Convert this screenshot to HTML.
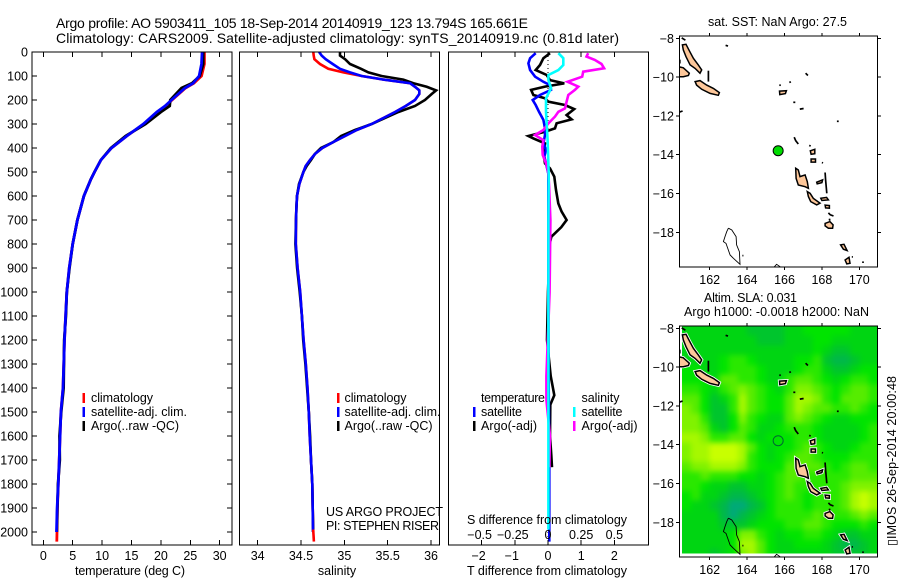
<!DOCTYPE html>
<html lang="en">
<head>
<meta charset="utf-8">
<title>Argo profile 5903411_105</title>
<style>
html,body{margin:0;padding:0;background:#fff;width:900px;height:580px;overflow:hidden}
svg{display:block}
text{font-family:"Liberation Sans",Arial,sans-serif;font-size:12.5px;fill:#000}
</style>
</head>
<body>
<svg id="chart" xmlns="http://www.w3.org/2000/svg" width="900" height="580" viewBox="0 0 900 580">
<defs>
<clipPath id="clip-map1"><rect x="680" y="36" width="198" height="231"/></clipPath>
<clipPath id="clip-map2"><rect x="680" y="326" width="198" height="231"/></clipPath>
<clipPath id="clip-heat"><rect x="682" y="326" width="196" height="227.5"/></clipPath>
<filter id="heat-soften" filterUnits="userSpaceOnUse" x="650" y="300" width="250" height="280" color-interpolation-filters="sRGB"><feGaussianBlur stdDeviation="3"/></filter>
</defs>
<rect x="0" y="0" width="900" height="580" fill="#fff"/>
<text x="56" y="28" textLength="472" style="font-size:14px">Argo profile: AO 5903411_105 18-Sep-2014 20140919_123 13.794S 165.661E</text>
<text x="56" y="43" textLength="563" style="font-size:14px">Climatology: CARS2009. Satellite-adjusted climatology: synTS_20140919.nc (0.81d later)</text>
<g clip-path="url(#clip-heat)"><g id="heat" filter="url(#heat-soften)"></g></g>
<g id="map1" clip-path="url(#clip-map1)"></g>
<g id="map2" clip-path="url(#clip-map2)"></g>
<g id="p1"></g>
<g id="p2"></g>
<g id="p3"></g>
<g id="axes"></g>

<text x="130" y="575" text-anchor="middle" textLength="110">temperature (deg C)</text>
<text x="337" y="575" text-anchor="middle">salinity</text>
<text x="547" y="575" text-anchor="middle" textLength="160">T difference from climatology</text>
<text x="547" y="524" text-anchor="middle" textLength="160">S difference from climatology</text>

<rect x="82.5" y="393" width="2.5" height="10" fill="#f00"/>
<rect x="82.5" y="407" width="2.5" height="10" fill="#00f"/>
<rect x="82.5" y="421" width="2.5" height="10" fill="#000"/>
<text x="91" y="402" textLength="62">climatology</text>
<text x="91" y="416" textLength="96">satellite-adj. clim.</text>
<text x="91" y="430" textLength="88">Argo(..raw -QC)</text>

<rect x="337" y="393" width="2.5" height="10" fill="#f00"/>
<rect x="337" y="407" width="2.5" height="10" fill="#00f"/>
<rect x="337" y="421" width="2.5" height="10" fill="#000"/>
<text x="344.5" y="402" textLength="62">climatology</text>
<text x="344.5" y="416" textLength="96">satellite-adj. clim.</text>
<text x="344.5" y="430" textLength="88">Argo(..raw -QC)</text>

<text x="326" y="516" textLength="117">US ARGO PROJECT</text>
<text x="326" y="530" textLength="113">PI: STEPHEN RISER</text>

<rect x="473" y="407" width="2.5" height="10" fill="#00f"/>
<rect x="473" y="421" width="2.5" height="10" fill="#000"/>
<rect x="573" y="407" width="2.5" height="10" fill="#0ff"/>
<rect x="573" y="421" width="2.5" height="10" fill="#f0f"/>
<text x="481" y="402" textLength="64">temperature</text>
<text x="481" y="416" textLength="41">satellite</text>
<text x="481" y="430" textLength="56">Argo(-adj)</text>
<text x="581.5" y="402" textLength="38">salinity</text>
<text x="581.5" y="416" textLength="41">satellite</text>
<text x="581.5" y="430" textLength="56">Argo(-adj)</text>

<text x="708" y="26" textLength="139">sat. SST: NaN Argo: 27.5</text>
<text x="704" y="302" textLength="93">Altim. SLA: 0.031</text>
<text x="684" y="316" textLength="185">Argo h1000: -0.0018 h2000: NaN</text>
<text transform="translate(896,546) rotate(-90)" textLength="170">▯IMOS 26-Sep-2014 20:00:48</text>
</svg>

<script>
// ---- depth scale ----
const depthTicks = [0,100,200,300,400,500,600,700,800,900,1000,1100,1200,1300,1400,1500,1600,1700,1800,1900,2000];

// ---- temperature profile (deg C) ----
const tempTicks = [0,5,10,15,20,25,30];
const tempDepth = [0,50,100,130,150,200,225,250,300,350,400,450,500,530,600,700,800,900,1000,1100,1200,1400,1500,1600,1700,1800,1900,2000];
const tempClim  = [27.4,27.4,26.9,25.6,24.2,21.9,20.8,19.4,17.1,14.2,11.6,9.8,8.7,8.1,6.9,5.8,5.0,4.4,4.0,3.8,3.6,3.35,3.0,2.85,2.7,2.55,2.4,2.33];
const tempSat   = [27.0,26.9,26.5,25.5,24.1,21.8,20.7,19.3,17.0,14.2,11.6,9.8,8.7,8.1,6.9,5.8,5.0,4.4,4.0,3.8,3.6,3.35,3.0,2.85,2.7,2.55,2.35,2.25];
const tempArgo  = [27.2,27.2,26.6,25.3,23.5,21.6,21.5,20.0,17.4,14.0,11.5,9.8,8.7,8.1,6.9,5.8,5.0,4.45,4.0,3.85,3.55,3.45,3.05,2.75,2.8,2.5,2.4,2.3];
const tempClimTail = [[2000,2.33],[2040,2.3]];

// ---- salinity profile (psu) ----
const salTicks = [34,34.5,35,35.5,36];
const salDepth = [0,15,30,50,70,85,100,115,130,145,160,175,200,225,250,275,300,325,350,375,400,425,450,475,500,550,600,650,700,800,900,1000,1100,1200,1300,1400,1500,1600,1700,1800,1900,2000];
const salClim = [34.642,34.646,34.654,34.719,34.815,34.988,35.2,35.45,35.758,35.815,35.865,35.865,35.815,35.708,35.585,35.45,35.315,35.142,35.008,34.873,34.746,34.66,34.604,34.554,34.527,34.481,34.454,34.446,34.442,34.44,34.46,34.49,34.51,34.53,34.555,34.575,34.59,34.6,34.615,34.63,34.635,34.64];
const salSat  = [34.708,34.738,34.785,34.865,34.95,35.065,35.2,35.45,35.758,35.815,35.865,35.865,35.815,35.708,35.585,35.45,35.315,35.142,35.008,34.873,34.746,34.66,34.604,34.554,34.527,34.481,34.454,34.446,34.442,34.44,34.46,34.49,34.51,34.53,34.555,34.575,34.59,34.6,34.615,34.63,34.635,34.638];
const salArgo = [34.95,34.95,35.008,35.065,35.192,35.277,35.43,35.68,35.796,35.95,36.058,36.008,35.93,35.815,35.623,35.47,35.315,35.123,34.962,34.873,34.73,34.66,34.615,34.565,34.527,34.477,34.454,34.446,34.442,34.435,34.455,34.485,34.51,34.525,34.55,34.57,34.59,34.605,34.615,34.63,34.635,34.64];
const salClimTail = [[1990,34.64],[2040,34.648]];

// ---- difference panel ----
const tDiffTicks = [-2,-1,0,1,2];
const tDiffLabels = ['\u22122','\u22121','0','1','2'];
const sDiffTicks = [-0.5,-0.25,0,0.25,0.5];
const sDiffLabels = ['\u22120.5','\u22120.25','0','0.25','0.5'];
const dtSatDepth = [5,26,47,75,103,124,138,158,179,200,221,249,283,318,346,381,408,436,464,506,561,700,1000,1400,1700,2040];
const dtSatVal   = [-0.37,-0.54,-0.59,-0.54,-0.39,-0.14,0.06,0.09,-0.24,-0.46,-0.37,-0.27,-0.14,-0.09,-0.09,-0.14,-0.06,-0.11,-0.06,0.01,0.01,0.01,0.01,0.02,0.04,0.04];
const dtArgoDepth = [5,26,54,75,96,117,131,144,158,179,193,207,221,238,263,281,297,318,332,350,360,381,422,464,485,519,575,631,665,700,730,770,800,1000,1200,1350,1430,1470,1600,1680,1730];
const dtArgoVal   = [0.06,-0.14,-0.24,-0.37,-0.04,0.06,0.49,-0.09,-0.51,-0.44,-0.09,0.01,0.51,0.79,0.56,0.71,0.26,0.21,-0.09,-0.59,-0.44,-0.09,-0.14,-0.09,0.06,0.19,0.24,0.31,0.41,0.56,0.4,0.1,0.05,0.0,-0.03,0.08,0.19,0.07,0.06,0.1,0.12];
const dsArgoDepth = [5,19,33,50,68,82,103,124,144,158,179,207,235,249,269,297,325,346,367,394,429,471,506,561,700,1000,1350,1450,1600,1730];
const dsArgoVal   = [0.303,0.29,0.353,0.403,0.423,0.265,0.258,0.148,0.228,0.203,0.153,0.14,0.128,0.078,0.053,0.003,-0.035,-0.098,-0.035,-0.043,-0.04,-0.01,0.003,0.008,0.018,0.012,-0.012,-0.012,0.015,0.01];
const dsSatDepth = [5,26,54,75,96,117,151,193,249,367,506,700,1990];
const dsSatVal   = [0.078,0.115,0.115,0.078,0.003,0.003,0.023,-0.015,-0.015,-0.003,0.005,0.003,0.003];

// ---- map data ----
const lonTicks = [162,164,166,168,170];
const latTicks = [-8,-10,-12,-14,-16,-18];
const latLabels = ['\u22128','\u221210','\u221212','\u221214','\u221216','\u221218'];
const floatLon = 165.661;
const floatLat = -13.794;
const landPolygons = [
 [[160.54,-8.34],[160.73,-8.31],[160.91,-8.64],[161.13,-9.03],[161.39,-9.37],[161.57,-9.63],[161.48,-9.8],[161.22,-9.55],[160.95,-9.37],[160.73,-8.95],[160.59,-8.6]],
 [[160.3,-9.46],[160.59,-9.52],[160.91,-9.8],[160.86,-9.92],[160.59,-9.98],[160.3,-9.98]],
 [[161.22,-10.23],[161.48,-10.18],[161.84,-10.41],[162.2,-10.58],[162.52,-10.8],[162.46,-10.94],[162.02,-10.84],[161.57,-10.63],[161.3,-10.41]],
 [[165.73,-10.72],[166.1,-10.7],[166.05,-10.85],[165.75,-10.9]],
 [[167.38,-13.8],[167.62,-13.72],[167.62,-13.95],[167.42,-13.98]],
 [[167.42,-14.22],[167.66,-14.22],[167.66,-14.38],[167.42,-14.38]],
 [[166.6,-14.7],[166.74,-14.79],[166.83,-15.13],[167.1,-15.04],[167.22,-15.39],[167.28,-15.73],[167.1,-15.65],[166.74,-15.56],[166.62,-15.22]],
 [[167.22,-15.9],[167.37,-15.99],[167.54,-16.25],[167.9,-16.5],[167.72,-16.59],[167.4,-16.42],[167.28,-16.16]],
 [[167.72,-15.42],[168.04,-15.3],[168.0,-15.44],[167.75,-15.5]],
 [[167.94,-16.25],[168.25,-16.2],[168.35,-16.33],[168.0,-16.36]],
 [[168.17,-16.6],[168.4,-16.62],[168.4,-16.76],[168.2,-16.74]],
 [[168.17,-17.54],[168.43,-17.45],[168.6,-17.62],[168.57,-17.79],[168.35,-17.79],[168.17,-17.67]],
 [[169,-18.65],[169.18,-18.62],[169.35,-18.94],[169.15,-18.87]],
 [[169.24,-19.43],[169.45,-19.29],[169.5,-19.6],[169.33,-19.63]]
];
const coastSticks = [
 [[161.93,-9.67],[161.93,-10.23]],
 [[160.4,-9.1],[160.4,-9.3]],
 [[160.5,-7.98],[160.7,-8.1]],
 [[162.85,-8.36],[162.98,-8.4]],
 [[160.4,-11.8],[160.55,-11.75]],
 [[167.13,-9.8],[167.25,-9.92]],
 [[166.28,-10.22],[166.32,-10.3]],
 [[165.72,-10.42],[165.8,-10.42]],
 [[166.47,-11.3],[166.58,-11.3]],
 [[166.82,-11.65],[167.02,-11.62]],
 [[168.8,-12.28],[168.9,-12.28]],
 [[166.52,-13.1],[166.6,-13.28],[166.74,-13.45]],
 [[167.32,-13.52],[167.4,-13.55]],
 [[168.0,-14.4],[168.06,-14.43]],
 [[168.17,-14.92],[168.2,-15.3],[168.26,-15.99]],
 [[168.35,-17.0],[168.45,-17.1],[168.62,-17.16]],
 [[168.4,-17.3],[168.42,-17.4]],
 [[169.6,-19.27],[169.66,-19.27]],
 [[170.2,-19.5],[170.2,-19.58]],
 [[163.75,-19.2],[163.8,-19.2]]
];
const reefOutlines = [
 [[163,-17.79],[163.18,-17.88],[163.41,-18.22],[163.44,-18.65],[163.59,-19],[163.62,-19.65],[163.27,-19.34],[163.09,-19.17],[162.87,-18.57],[162.73,-18.48],[162.82,-18.22],[162.91,-17.97],[163,-17.79]],
 [[165.44,-19.8],[165.58,-19.65],[165.8,-19.8]]
];

// ---- altimetry sea-level grid: one digit per half-degree cell, low (teal) to high (yellow) ----
const heatStartLon = 160.5;
const heatStartLat = -7.88;
const heatStep = 0.5;
const heatRows = [
"333333322223344444333",
"333333332223334433333",
"333333333333334322333",
"333345543333445211233",
"443345554333455322344",
"444366554335665434554",
"554356765435776545665",
"664235865446887546665",
"764225865446876655654",
"775224754336765433444",
"776324653345554333345",
"887556643444554333345",
"788999864344565433455",
"788999854345665444555",
"677888754446666545665",
"556555443456655555666",
"554332233456555556777",
"453321123456545556898",
"433210012455545556898",
"333310123455556555676",
"333322234445566544454",
"333334775434455432233",
"333334886433444321123",
"333234786433333322223"
];
const heatRamp = ['#00aa78','#00b84a','#00c52d','#00d512','#00e400','#2ae800','#56ec00','#80f200','#a6f800','#c8ff00'];

// ---- axis functions ----
const yDepth = d => 52 + 0.24 * d;
const xTemp = t => 43.3 + 5.88 * t;
const xSal = s => 257.7 + 86.67 * (s - 34);
const xTDiff = t => 548 + 33.2 * t;
const xSDiff = s => 548 + 132.7 * s;
const xLon = lon => 709.7 + 18.7 * (lon - 162);
const yLat1 = lat => 38.3 + 19.4 * (-8 - lat);
const yLat2 = lat => 328.3 + 19.4 * (-8 - lat);
const heatColor = v => heatRamp[v];

const NS = 'http://www.w3.org/2000/svg';
function make(tag, parent, attrs) {
  const el = document.createElementNS(NS, tag);
  for (const k in attrs) el.setAttribute(k, attrs[k]);
  parent.appendChild(el);
  return el;
}
function profile(parent, name, depths, vals, xFn, color, width) {
  const pts = depths.map((d, i) => xFn(vals[i]).toFixed(1) + ',' + yDepth(d).toFixed(1)).join(' ');
  const el = make('polyline', parent, {points: pts, fill: 'none', stroke: color, 'stroke-width': width, 'stroke-linejoin': 'miter'});
  
  
}
function tickLine(parent, x1, y1, x2, y2, name) {
  const el = make('line', parent, {x1: x1, y1: y1, x2: x2, y2: y2, stroke: '#000', 'stroke-width': 1, 'shape-rendering': 'crispEdges'});
  
  
}
function label(parent, x, y, str, anchor, name) {
  const el = make('text', parent, {x: x, y: y, 'text-anchor': anchor});
  el.textContent = str;
  
  
}
function frame(parent, x, y, w, h, name) {
  const el = make('rect', parent, {x: x, y: y, width: w, height: h, fill: 'none', stroke: '#000', 'stroke-width': 1.4, 'shape-rendering': 'crispEdges'});
  
  
}

const axes = document.getElementById('axes');
const P = {top: 52, bottom: 545};

// Temperature panel
const p1 = document.getElementById('p1');
profile(p1, 'temperature-climatology-line', tempDepth, tempClim, xTemp, '#f00', 2.8);
profile(p1, 'temperature-climatology-tail', tempClimTail.map(r => r[0]), tempClimTail.map(r => r[1]), xTemp, '#f00', 2.8);
profile(p1, 'temperature-argo-line', tempDepth, tempArgo, xTemp, '#000', 2.8);
profile(p1, 'temperature-satellite-line', tempDepth, tempSat, xTemp, '#00f', 2.8);
frame(axes, 32, P.top, 200, P.bottom - P.top, 'temperature-plot-frame');
tempTicks.forEach(v => {
  tickLine(axes, xTemp(v), P.top, xTemp(v), P.top + 5, 'temperature-top-tick');
  tickLine(axes, xTemp(v), P.bottom, xTemp(v), P.bottom - 5, 'temperature-bottom-tick');
  label(axes, xTemp(v), 560, String(v), 'middle', 'temperature-tick-label');
});
depthTicks.forEach(d => {
  tickLine(axes, 32, yDepth(d), 37, yDepth(d), 'depth-left-tick');
  tickLine(axes, 232, yDepth(d), 227, yDepth(d), 'depth-right-tick');
  label(axes, 28, yDepth(d) + 4.5, String(d), 'end', 'depth-tick-label');
});

// Salinity panel
const p2 = document.getElementById('p2');
profile(p2, 'salinity-climatology-line', salDepth, salClim, xSal, '#f00', 2.6);
profile(p2, 'salinity-argo-line', salDepth, salArgo, xSal, '#000', 2.6);
profile(p2, 'salinity-satellite-line', salDepth, salSat, xSal, '#00f', 2.6);
profile(p2, 'salinity-climatology-tail', salClimTail.map(r => r[0]), salClimTail.map(r => r[1]), xSal, '#f00', 2.6);
frame(axes, 239.5, P.top, 200, P.bottom - P.top, 'salinity-plot-frame');
salTicks.forEach(v => {
  tickLine(axes, xSal(v), P.top, xSal(v), P.top + 5, 'salinity-top-tick');
  tickLine(axes, xSal(v), P.bottom, xSal(v), P.bottom - 5, 'salinity-bottom-tick');
  label(axes, xSal(v), 560, String(v), 'middle', 'salinity-tick-label');
});

// Difference panel
const p3 = document.getElementById('p3');
const zero = make('line', p3, {x1: xTDiff(0), y1: P.top, x2: xTDiff(0), y2: P.bottom, stroke: '#000', 'stroke-width': 1, 'stroke-dasharray': '1 3'});


profile(p3, 'diff-temperature-argo-line', dtArgoDepth, dtArgoVal, xTDiff, '#000', 2.6);
profile(p3, 'diff-temperature-satellite-line', dtSatDepth, dtSatVal, xTDiff, '#00f', 2.6);
profile(p3, 'diff-salinity-argo-line', dsArgoDepth, dsArgoVal, xSDiff, '#f0f', 2.6);
profile(p3, 'diff-salinity-satellite-line', dsSatDepth, dsSatVal, xSDiff, '#0ff', 2.6);
frame(axes, 448.5, P.top, 200, P.bottom - P.top, 'difference-plot-frame');
tDiffTicks.forEach((v, i) => {
  tickLine(axes, xTDiff(v), P.top, xTDiff(v), P.top + 5, 'difference-top-tick');
  tickLine(axes, xTDiff(v), P.bottom, xTDiff(v), P.bottom - 5, 'difference-bottom-tick');
  label(axes, xTDiff(v) - (v < 0 ? 3 : 0), 560, tDiffLabels[i], 'middle', 't-difference-tick-label');
});
sDiffTicks.forEach((v, i) => {
  label(axes, xSDiff(v) - (v < 0 ? 2 : 0), 539, sDiffLabels[i], 'middle', 's-difference-tick-label');
});

// Heatmap (edge cells run past the clip so the softening does not fade at the borders)
const heat = document.getElementById('heat');
heatRows.forEach((row, r) => {
  [...row].forEach((ch, c) => {
    const lon = heatStartLon + c * heatStep;
    const lat = heatStartLat - r * heatStep;
    let x0 = xLon(lon), x1 = xLon(lon + heatStep), y0 = yLat2(lat), y1 = yLat2(lat - heatStep);
    if (c === 0) x0 -= 12;
    if (c === row.length - 1) x1 += 12;
    if (r === 0) y0 -= 12;
    if (r === heatRows.length - 1) y1 += 12;
    const cell = make('rect', heat, {x: x0, y: y0, width: x1 - x0 + 0.5, height: y1 - y0 + 0.5, fill: heatColor(+ch), 'shape-rendering': 'crispEdges'});
    
    
  });
});

// Maps
function drawMap(gid, yLat, halo) {
  const g = document.getElementById(gid);
  const toPts = poly => poly.map(p => xLon(p[0]).toFixed(1) + ',' + yLat(p[1]).toFixed(1)).join(' ');
  if (halo) {
    landPolygons.forEach(poly => {
      const h = make('polygon', g, {points: toPts(poly), fill: '#fff', stroke: '#fff', 'stroke-width': 3.2});
      
      
    });
  }
  landPolygons.forEach(poly => {
    const el = make('polygon', g, {points: toPts(poly), fill: '#fdc79a', stroke: '#000', 'stroke-width': 1.5});
    
    
  });
  coastSticks.forEach(poly => {
    const el = make('polyline', g, {points: toPts(poly), fill: 'none', stroke: '#000', 'stroke-width': 1.7});
    
    
  });
  reefOutlines.forEach(poly => {
    const el = make('polyline', g, {points: toPts(poly), fill: 'none', stroke: '#000', 'stroke-width': 0.9});
    
    
  });
  const cx = xLon(floatLon), cy = yLat(floatLat);
  if (halo) {
    const ring = make('circle', g, {cx: cx, cy: cy, r: 5, fill: 'none', stroke: '#063', 'stroke-width': 1});
    
    
  } else {
    const ring = make('circle', g, {cx: cx, cy: cy, r: 5, fill: '#00dc00', stroke: '#000', 'stroke-width': 1});
    
    
  }
}
drawMap('map1', yLat1, false);
drawMap('map2', yLat2, true);

function mapAxes(yLat, top, bottom, labelY, prefix) {
  frame(axes, 679.5, top, 198, bottom - top, prefix + '-frame');
  lonTicks.forEach(v => {
    tickLine(axes, xLon(v), top, xLon(v), top - 3, prefix + '-lon-top-tick');
    tickLine(axes, xLon(v), bottom, xLon(v), bottom + 3, prefix + '-lon-bottom-tick');
    label(axes, xLon(v), labelY, String(v), 'middle', prefix + '-lon-label');
  });
  latTicks.forEach((v, i) => {
    tickLine(axes, 679.5, yLat(v), 676, yLat(v), prefix + '-lat-left-tick');
    tickLine(axes, 877.5, yLat(v), 881, yLat(v), prefix + '-lat-right-tick');
    label(axes, 674, yLat(v) + 4.5, latLabels[i], 'end', prefix + '-lat-label');
  });
}
mapAxes(yLat1, 36, 267, 284, 'map1');
mapAxes(yLat2, 326, 557, 574, 'map2');
</script>
</body>
</html>
